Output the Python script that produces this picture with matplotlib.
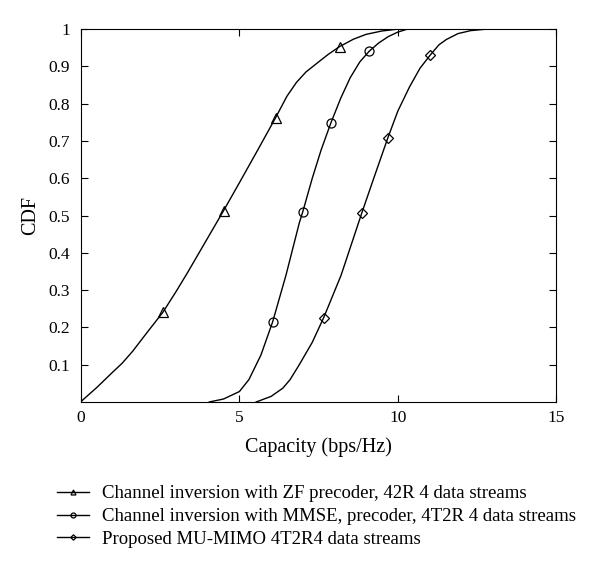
import matplotlib

matplotlib.use("Agg")
import matplotlib.pyplot as plt

# values
zf_x = [0.0, 0.05, 0.5, 1.0, 1.3, 1.63, 2.10, 2.58, 3.0, 3.37, 4.0, 4.5, 5.0, 5.58, 6.14,
        6.5, 6.8, 7.1, 7.5, 7.8, 8.16, 8.6, 9.0, 9.5, 10.0]
zf_y = [0.0, 0.005, 0.039, 0.08, 0.104, 0.136, 0.188, 0.24, 0.296, 0.348, 0.44, 0.513, 0.588,
        0.676, 0.762, 0.82, 0.857, 0.885, 0.912, 0.932, 0.953, 0.973, 0.986, 0.995, 1.0]
zf_marks = [7, 11, 14, 20]

mmse_x = [4.05, 4.5, 5.0, 5.3, 5.68, 6.05, 6.47, 6.89, 7.0, 7.3, 7.58, 7.89, 8.2, 8.5, 8.8,
          9.1, 9.4, 9.7, 10.0, 10.3]
mmse_y = [0.0, 0.008, 0.028, 0.06, 0.126, 0.215, 0.34, 0.48, 0.51, 0.6, 0.676, 0.749, 0.815,
          0.87, 0.912, 0.941, 0.963, 0.98, 0.992, 1.0]
mmse_marks = [5, 8, 11, 15]

prop_x = [5.53, 6.0, 6.37, 6.6, 6.89, 7.3, 7.66, 8.21, 8.86, 9.2, 9.68, 10.0, 10.37, 10.7,
          11.02, 11.3, 11.53, 11.9, 12.3, 12.8]
prop_y = [0.0, 0.015, 0.037, 0.06, 0.10, 0.16, 0.226, 0.34, 0.506, 0.59, 0.707, 0.78, 0.845,
          0.895, 0.93, 0.958, 0.972, 0.988, 0.996, 1.0]
prop_marks = [6, 8, 10, 14]

labels = [
    "Channel inversion with ZF precoder, 42R 4 data streams",
    "Channel inversion with MMSE, precoder, 4T2R 4 data streams",
    "Proposed MU-MIMO 4T2R4 data streams",
]

x_ticks = [0, 5, 10, 15]
y_ticks = [0.1, 0.2, 0.3, 0.4, 0.5, 0.6, 0.7, 0.8, 0.9, 1.0]
y_tick_labels = ["0.1", "0.2", "0.3", "0.4", "0.5", "0.6", "0.7", "0.8", "0.9", "1"]

plt.rcParams["font.family"] = ["Liberation Serif", "DejaVu Serif"]

fig = plt.figure(figsize=(6.0, 5.71), dpi=100)
ax = fig.add_axes([0.135, 0.296, 0.792, 0.653])

style = dict(color="black", lw=1.0, mfc="none", mec="black", ms=6.5, mew=0.9)
ax.plot(zf_x, zf_y, marker="^", markevery=zf_marks, label=labels[0], **style)
ax.plot(mmse_x, mmse_y, marker="o", markevery=mmse_marks, label=labels[1], **style)
ax.plot(prop_x, prop_y, marker="D", markevery=prop_marks, label=labels[2],
        **{**style, "ms": 5})

ax.set_xlim(0, 15)
ax.set_ylim(0, 1)
ax.set_xticks(x_ticks)
ax.set_yticks(y_ticks)
ax.set_yticklabels(y_tick_labels)
ax.tick_params(direction="in", top=True, right=True, labelsize=12.5, length=5)
ax.tick_params(axis="x", pad=6)
ax.tick_params(axis="y", pad=8)
ax.set_xlabel("Capacity (bps/Hz)", fontsize=14.5, labelpad=8)
ax.set_ylabel("CDF", fontsize=14.5, labelpad=6)

fig.legend(loc="upper left", bbox_to_anchor=(0.095, 0.15), frameon=False,
           fontsize=13.5, handlelength=1.7, handletextpad=0.7,
           labelspacing=0.3, borderaxespad=0, borderpad=0, markerscale=0.55)

fig.savefig("out.png", dpi=100)
